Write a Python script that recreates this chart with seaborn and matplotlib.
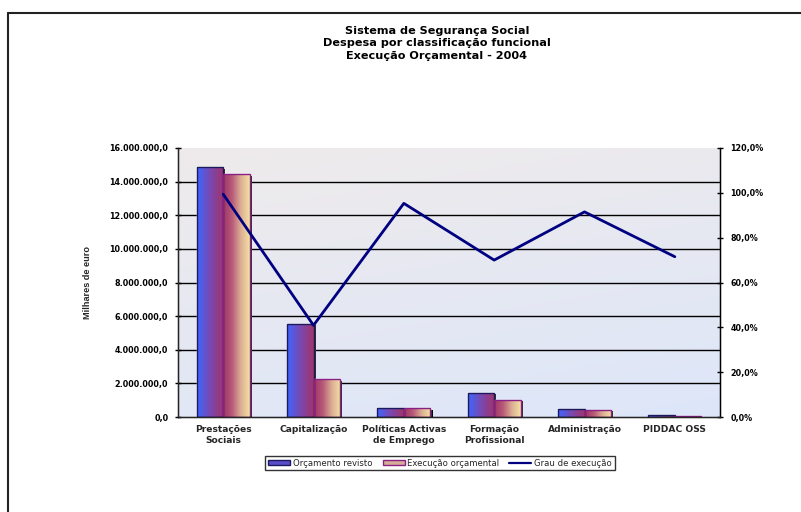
import numpy as np
import pandas as pd
import matplotlib
matplotlib.use("Agg")
import matplotlib.pyplot as plt
import matplotlib.patheffects as pe
from matplotlib.patches import Rectangle, Patch
from matplotlib.lines import Line2D
from matplotlib.colors import to_rgb
from matplotlib.ticker import FuncFormatter, MultipleLocator
import seaborn as sns

# ---- data (thousand euro / %) ----
categorias = ["Prestações\nSociais", "Capitalização", "Políticas Activas\nde Emprego",
              "Formação\nProfissional", "Administração", "PIDDAC OSS"]
orcamento_revisto = [14_850_000, 5_560_000, 560_000, 1_450_000, 470_000, 90_000]
execucao_orcamental = [14_450_000, 2_270_000, 510_000, 1_040_000, 440_000, 65_000]
grau_execucao = [99.4, 40.9, 95.3, 70.0, 91.5, 71.5]

series = ["Orçamento revisto", "Execução orçamental", "Grau de execução"]
titulo = ["Sistema de Segurança Social",
          "Despesa por classificação funcional",
          "Execução Orçamental - 2004"]
eixo_y = "Milhares de euro"

sns.set_style("white")
plt.rcParams["font.family"] = ["DejaVu Sans"]

df = pd.DataFrame({
    "categoria": categorias * 2,
    "serie": [series[0]] * 6 + [series[1]] * 6,
    "valor": orcamento_revisto + execucao_orcamental,
})

fig = plt.figure(figsize=(8.01, 5.12), dpi=100)
ax = fig.add_axes([178 / 801, 95 / 512, 542 / 801, 269 / 512])
ax.set_facecolor("none")

# plot-area background: soft diagonal wash from warm grey (top) to pale blue (bottom)
gy, gx = np.mgrid[0:1:200j, 0:1:200j]
t = np.clip(0.75 * gy + 0.25 * gx, 0, 1)[..., None]
c_top, c_bot = np.array(to_rgb("#efebeb")), np.array(to_rgb("#dde6f9"))
bg = c_top * (1 - t) + c_bot * t
ax.imshow(bg, extent=[0, 1, 0, 1], origin="upper", transform=ax.transAxes,
          aspect="auto", zorder=-5, interpolation="bilinear")

sns.barplot(data=df, x="categoria", y="valor", hue="serie",
            palette=["#5a4cc8", "#d6ae98"], width=0.59, gap=0,
            saturation=1, errorbar=None, legend=False, ax=ax, zorder=2)


def gradient_fill(bar, stops, edge):
    x, y = bar.get_x(), bar.get_y()
    w, h = bar.get_width(), bar.get_height()
    if h <= 0:
        return
    xs = np.linspace(0, 1, 64)
    pos = np.linspace(0, 1, len(stops))
    cols = np.array([to_rgb(c) for c in stops])
    row = np.stack([np.interp(xs, pos, cols[:, k]) for k in range(3)], axis=-1)
    img = np.repeat(row[None, :, :], 8, axis=0)
    im = ax.imshow(img, extent=[x, x + w, y, y + h], aspect="auto",
                   origin="lower", zorder=2.1, interpolation="bilinear")
    im.set_clip_path(bar)
    ax.add_patch(Rectangle((x, y), w, h, fill=False, edgecolor=edge,
                           lw=1.0, zorder=2.2))


shadow = [pe.SimplePatchShadow(offset=(1.6, -1.2), shadow_rgbFace="black", alpha=1),
          pe.Normal()]
for bar in ax.containers[0]:
    bar.set_path_effects(shadow)
    gradient_fill(bar, ["#3d66ff", "#7a48b0", "#a0346a"], "#1c1a5c")
for bar in ax.containers[1]:
    bar.set_path_effects(shadow)
    gradient_fill(bar, ["#a0346a", "#b85a78", "#dcae94", "#f3e2a2"], "#8a1f86")

# left axis
ax.set_ylim(0, 16_000_000)
ax.set_xlim(-0.5, 5.5)
ax.yaxis.set_major_locator(MultipleLocator(2_000_000))
ax.yaxis.set_major_formatter(FuncFormatter(
    lambda v, _: f"{v:,.1f}".replace(",", " ").replace(".", ",").replace(" ", ".")))
for yv in np.arange(2_000_000, 16_000_000, 2_000_000):
    ax.axhline(yv, color="black", lw=1.0, zorder=0)
ax.set_xlabel("")
ax.set_ylabel(eixo_y, fontsize=6.6, fontweight="bold",
              family=["Liberation Sans", "DejaVu Sans"])
ax.yaxis.set_label_coords(-0.158, 0.5)
ax.tick_params(axis="y", direction="inout", length=5, width=1, pad=4.5,
               labelsize=5.8, colors="black")
for lab in ax.get_yticklabels():
    lab.set_fontweight("bold")
ax.set_xticks(range(len(categorias)))
ax.set_xticklabels(categorias, fontsize=6.6, fontweight="bold", linespacing=1.2)
ax.set_xticks(np.arange(-0.5, 6, 1), minor=True)
ax.tick_params(axis="x", which="major", length=0, pad=6)
ax.tick_params(axis="x", which="minor", direction="inout", length=5, width=1)
for side in ["left", "bottom", "right"]:
    ax.spines[side].set_color("black")
    ax.spines[side].set_linewidth(1)
ax.spines["top"].set_visible(False)

# right axis with the execution rate
ax2 = ax.twinx()
sns.lineplot(x=np.arange(len(grau_execucao)), y=grau_execucao, ax=ax2,
             color="#000080", lw=2.0, legend=False, sort=False)
ax2.set_ylim(0, 120)
ax.set_xlim(-0.5, 5.5)
ax2.yaxis.set_major_locator(MultipleLocator(20))
ax2.yaxis.set_major_formatter(FuncFormatter(lambda v, _: f"{v:.1f}%".replace(".", ",")))
ax2.tick_params(axis="y", direction="inout", length=5, width=1, pad=5,
                labelsize=5.8, colors="black")
for lab in ax2.get_yticklabels():
    lab.set_fontweight("bold")
ax2.set_ylabel("")
ax2.spines["top"].set_visible(False)
ax2.spines["right"].set_color("black")

# title
for i, linha in enumerate(titulo):
    fig.text(437 / 801, 1 - (31 + 12.5 * i) / 512, linha, ha="center", va="center",
             fontsize=8.1, fontweight="bold", color="black")

# legend
handles = [Patch(facecolor="#5a4cc8", edgecolor="#1c1a5c", lw=1),
           Patch(facecolor="#d6ae98", edgecolor="#8a1f86", lw=1),
           Line2D([], [], color="#000080", lw=1.6)]
leg = fig.legend(handles, series, loc="center", bbox_to_anchor=(440 / 801, 1 - 463 / 512),
                 ncol=3, fontsize=6.1, frameon=True, fancybox=False, handlelength=2.6,
                 handleheight=0.55, handletextpad=0.3, columnspacing=1.2,
                 borderpad=0.35, edgecolor="black")
leg.get_frame().set_linewidth(1)

# chart-area border (top and left edges)
fig.add_artist(Line2D([8 / 801, 8 / 801], [0, 1 - 13 / 512], color="#222222", lw=1.5))
fig.add_artist(Line2D([8 / 801, 1], [1 - 13 / 512, 1 - 13 / 512], color="#222222", lw=1.5))

fig.savefig("out.png", dpi=100)
